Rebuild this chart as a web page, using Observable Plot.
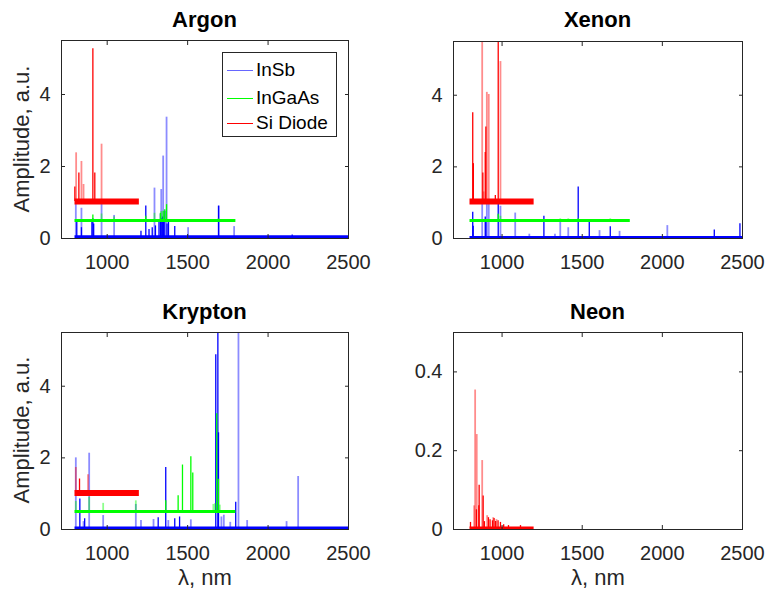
<!DOCTYPE html>
<html><head><meta charset="utf-8">
<script src="https://cdn.jsdelivr.net/npm/d3@7"></script>
<script src="https://cdn.jsdelivr.net/npm/@observablehq/plot@0.6"></script>
<style>
body{margin:0;background:#fff;}
#fig{position:relative;width:769px;height:599px;overflow:hidden;font-family:"Liberation Sans",Arial,sans-serif;color:#262626;background:#fff;}
.p{position:absolute;}
.title{position:absolute;font-weight:bold;font-size:22px;color:#000;transform:translate(-50%,-50%);white-space:nowrap;}
.xlab{position:absolute;font-size:22px;transform:translate(-50%,-50%);white-space:nowrap;}
.ylab{position:absolute;font-size:22px;transform:translate(-50%,-50%) rotate(-90deg);white-space:nowrap;}
.legend{position:absolute;left:222px;top:52px;width:113px;height:83px;border:1px solid #262626;background:#fff;font-size:19px;color:#000;}
.legend .row{position:absolute;left:0;height:20px;line-height:20px;}
.legend .sw{position:absolute;left:4px;top:10px;width:26px;height:0;border-top:1px solid;}
.legend .tx{position:absolute;left:33px;top:0;white-space:nowrap;}
</style></head>
<body><div id="fig"></div>
<script>
// ---- data: [wavelength nm, amplitude a.u.] ----
const seriesNames = ["InSb", "InGaAs", "Si Diode"];
const seriesColors = ["#0000ff", "#00ff00", "#ff0000"];
const xTicks = [1000, 1500, 2000, 2500];
const yTicksMain = [0, 2, 4];
const yTicksNeon = [0, 0.2, 0.4];

// baselines: [start nm, end nm, level]
const argonBase = [[800, 2500, 0.05], [800, 1800, 0.5], [800, 1200, 1.03]];
const xenonBase = [[800, 2500, 0.03], [800, 1800, 0.5], [800, 1200, 1.03]];
const kryptonBase = [[800, 2500, 0.04], [800, 1800, 0.5], [800, 1200, 1.02]];
const neonBase = [null, null, [800, 1200, 0.004]];

const argonInSb = [[811,0.45],[840,0.3],[905,0.45],[911,0.55],[916,0.4],[1210,0.2],[1240,0.9],[1260,0.25],[1280,0.3],[1300,0.35],[1322,0.5],[1331,0.68],[1336,0.55],[1345,0.6],[1350,0.5],[1358,0.76],[1372,0.4],[1381,0.45],[1420,0.33],[1692,0.9],[2150,0.1]];
const argonInSbFaint = [[805,0.97],[840,0.84],[965,0.97],[1043,0.64],[1294,1.4],[1336,1.36],[1348,2.29],[1369,3.37],[1503,0.3],[1694,0.9],[1789,0.33]];
const argonInGaAs = [[911,0.65],[1240,0.62],[1331,0.7],[1348,0.76],[1358,0.8],[1369,0.94]];
const argonInGaAsFaint = [[965,0.68],[1043,0.6],[1294,0.7],[1336,0.75],[1692,0.55]];
const argonSi = [[799,1.43],[824,1.82],[911,5.27],[923,1.82]];
const argonSiFaint = [[807,2.38],[840,2.14],[853,1.5],[965,2.62]];

const xenonInSb = [[817,0.73],[820,0.34],[895,0.6],[899,0.5],[976,1.0],[1261,0.62],[1475,1.44],[1544,0.45],[1675,0.33],[2324,0.24],[2484,0.41]];
const xenonInSbFaint = [[876,1.0],[905,1.0],[917,1.0],[990,0.9],[1082,0.71],[1170,0.12],[1330,0.12],[1363,0.45],[1413,0.3],[1608,0.22],[1733,0.2],[2031,0.36]];
const xenonInGaAs = [[976,0.68],[1475,0.55]];
const xenonInGaAsFaint = [[990,0.62],[1363,0.55],[1413,0.55],[1675,0.55]];
const xenonSi = [[817,3.51],[821,2.09],[880,1.83],[895,2.4],[899,3.11],[958,1.2],[976,6.5]];
const xenonSiFaint = [[876,6.5],[885,1.3],[905,4.08],[917,4.02],[990,4.94]];

const kryptonInSb = [[830,0.85],[860,0.3],[1317,0.33],[1364,1.73],[1420,0.3],[1450,0.35],[1675,4.88],[1688,6.5],[1692,2.7],[1799,0.76]];
const kryptonInSbFaint = [[805,2.0],[853,0.22],[888,2.13],[975,0.39],[1178,0.7],[1210,0.25],[1288,0.28],[1380,0.25],[1520,0.27],[1710,0.35],[1725,0.4],[1765,0.2],[1816,6.5],[1870,0.25],[2115,0.22],[2187,1.48]];
const kryptonInGaAs = [[1364,0.8],[1441,0.94],[1468,1.8],[1520,2.03],[1532,1.58],[1681,3.23],[1692,1.4]];
const kryptonInGaAsFaint = [[805,0.78],[888,0.9],[975,0.73],[1178,0.8],[1660,0.7],[1670,0.72],[1700,0.68]];
const kryptonSi = [[828,1.41]];
const kryptonSiFaint = [[805,1.73],[881,1.53]];

const neonSi = [[803,0.018],[840,0.05],[855,0.06],[857,0.112],[882,0.085],[890,0.02],[915,0.03],[925,0.025],[940,0.022],[950,0.028],[960,0.02],[975,0.022],[990,0.018],[1010,0.012],[1040,0.01],[1115,0.01]];
const neonSiFaint = [[826,0.06],[832,0.354],[842,0.241],[876,0.175],[907,0.035],[945,0.03],[965,0.025]];

const fig = document.getElementById("fig");
const fmt = d => String(d);

function panel({left, top, width, height, margins, xDomain, yDomain, yTicks, base, solid, faint}) {
  const marks = [];
  for (let s = 0; s < 3; s++) {
    if (!base[s]) continue;
    const [x1, x2, lvl] = base[s];
    const color = seriesColors[s];
    const bw = s === 2 && lvl > 0.5 ? 6 : 3;
    marks.push(Plot.ruleX(faint[s] || [], {x: d => d[0], y1: lvl, y2: d => d[1], stroke: color, strokeOpacity: 0.45, strokeWidth: 1.8, clip: true}));
    marks.push(Plot.ruleX(solid[s] || [], {x: d => d[0], y1: lvl, y2: d => d[1], stroke: color, strokeWidth: 1.3, clip: true}));
    marks.push(Plot.ruleY([lvl], {y: d => d, x1, x2, stroke: color, strokeWidth: bw, clip: true}));
  }
  marks.push(
    Plot.frame({stroke: "#262626", strokeWidth: 1}),
    Plot.axisX({anchor: "bottom", ticks: xTicks, tickSize: 0, tickPadding: 16, tickFormat: fmt, label: null}),
    Plot.axisX({anchor: "bottom", ticks: xTicks, tickSize: 4, dy: -4, tickFormat: () => "", label: null, stroke: "#262626"}),
    Plot.axisX({anchor: "top", ticks: xTicks, tickSize: 4, dy: 4, tickFormat: () => "", label: null, stroke: "#262626"}),
    Plot.axisY({anchor: "left", ticks: yTicks, tickSize: 0, tickPadding: 11, tickFormat: fmt, label: null}),
    Plot.axisY({anchor: "left", ticks: yTicks, tickSize: 4, dx: 4, tickFormat: () => "", label: null, stroke: "#262626"}),
    Plot.axisY({anchor: "right", ticks: yTicks, tickSize: 4, dx: -4, tickFormat: () => "", label: null, stroke: "#262626"})
  );
  const svg = Plot.plot({
    width, height,
    marginLeft: margins[0], marginRight: margins[1], marginTop: margins[2], marginBottom: margins[3],
    x: {domain: xDomain},
    y: {domain: yDomain},
    style: {fontFamily: "Liberation Sans, Arial, sans-serif", fontSize: "20px", color: "#262626", background: "transparent", overflow: "visible"},
    marks
  });
  svg.classList.add("p");
  svg.style.left = left + "px";
  svg.style.top = top + "px";
  fig.appendChild(svg);
}

panel({left: 0, top: 0, width: 384, height: 299, margins: [61, 36, 40, 61], xDomain: [716, 2500], yDomain: [0, 5.5], yTicks: yTicksMain,
  base: argonBase, solid: [argonInSb, argonInGaAs, argonSi], faint: [argonInSbFaint, argonInGaAsFaint, argonSiFaint]});
panel({left: 384, top: 0, width: 385, height: 299, margins: [69, 27, 41, 61], xDomain: [697, 2500], yDomain: [0, 5.5], yTicks: yTicksMain,
  base: xenonBase, solid: [xenonInSb, xenonInGaAs, xenonSi], faint: [xenonInSbFaint, xenonInGaAsFaint, xenonSiFaint]});
panel({left: 0, top: 299, width: 384, height: 300, margins: [61, 36, 33, 70], xDomain: [716, 2500], yDomain: [0, 5.5], yTicks: yTicksMain,
  base: kryptonBase, solid: [kryptonInSb, kryptonInGaAs, kryptonSi], faint: [kryptonInSbFaint, kryptonInGaAsFaint, kryptonSiFaint]});
panel({left: 384, top: 299, width: 385, height: 300, margins: [69, 27, 33, 70], xDomain: [697, 2500], yDomain: [0, 0.5], yTicks: yTicksNeon,
  base: neonBase, solid: [null, null, neonSi], faint: [null, null, neonSiFaint]});

function addText(cls, txt, x, y) {
  const d = document.createElement("div");
  d.className = cls; d.textContent = txt;
  d.style.left = x + "px"; d.style.top = y + "px";
  fig.appendChild(d);
}
addText("title", "Argon", 204.5, 20);
addText("title", "Xenon", 597.5, 20);
addText("title", "Krypton", 204.5, 312);
addText("title", "Neon", 597.5, 312);
addText("ylab", "Amplitude, a.u.", 22, 139);
addText("ylab", "Amplitude, a.u.", 22, 430);
addText("xlab", "\u03bb, nm", 205, 578);
addText("xlab", "\u03bb, nm", 598, 578);

// legend
const lg = document.createElement("div");
lg.className = "legend";
const rowY = [7, 35, 60];
seriesNames.forEach((name, i) => {
  const r = document.createElement("div");
  r.className = "row"; r.style.top = rowY[i] + "px";
  const sw = document.createElement("div");
  sw.className = "sw"; sw.style.borderColor = seriesColors[i];
  if (i === 0) sw.style.opacity = 0.6;
  const tx = document.createElement("div");
  tx.className = "tx"; tx.textContent = name;
  r.appendChild(sw); r.appendChild(tx); lg.appendChild(r);
});
fig.appendChild(lg);
</script>
</body></html>
